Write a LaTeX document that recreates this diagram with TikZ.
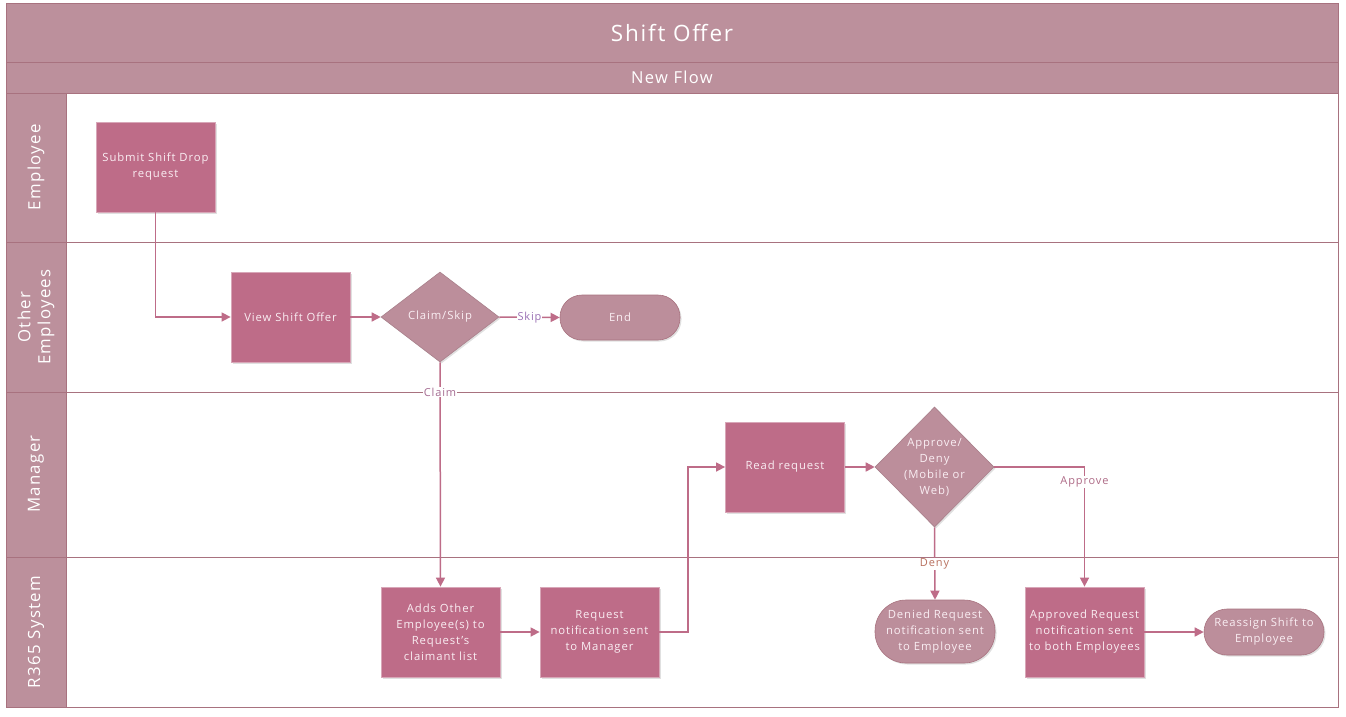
\documentclass[tikz,border=0pt]{standalone}
\usepackage{fontspec}
\setmainfont{Open Sans}[LetterSpace=8]
\usetikzlibrary{shapes.geometric,arrows.meta,shadows}
\definecolor{band}{HTML}{BC909C}
\definecolor{bandline}{HTML}{A8727F}
\definecolor{procc}{HTML}{BE6C88}
\definecolor{decc}{HTML}{BC8E9B}
\definecolor{txtc}{HTML}{FAEEF3}
\definecolor{linec}{HTML}{BE6C88}
\definecolor{skipc}{HTML}{9A70B4}
\definecolor{claimc}{HTML}{A56C92}
\definecolor{denyc}{HTML}{B8705E}
\definecolor{approvec}{HTML}{AE6A86}
\begin{document}
\begin{tikzpicture}[x=1pt,y=-1pt,
  shd/.style={drop shadow={shadow xshift=1.5pt,shadow yshift=-1.5pt,fill=black,opacity=0.12}},
  proc/.style={rectangle, fill=procc, draw=procc!60!white, line width=0.8pt, minimum width=119pt, minimum height=90pt, inner sep=2pt, text=txtc, align=center, font=\fontsize{11.3}{16}\selectfont, shd},
  dec/.style={diamond, fill=decc, draw=decc!90!black, line width=0.6pt, inner sep=0pt, shd},
  term/.style={rectangle, rounded corners=#1, fill=decc, draw=bandline, line width=0.6pt, inner sep=2pt, text=txtc, align=center, font=\fontsize{11.3}{16}\selectfont, shd},
  lbl/.style={fill=white, inner sep=1pt, font=\fontsize{11}{13}\selectfont},
  conn/.style={draw=linec, line width=1.5pt, -{Triangle[length=9pt,width=9pt]}},
  lane/.style={text=white, font=\fontsize{16.8}{20}\selectfont, rotate=90}
]
\useasboundingbox (0,0) rectangle (1346,716);
% frame and bands
\fill[white] (6,3) rectangle (1338,707);
\fill[band] (6,3) rectangle (1338,93);
\fill[band] (6,93) rectangle (66,707);
\draw[bandline, line width=1pt] (6,3) rectangle (1338,707);
\draw[bandline, line width=1pt] (6,62) -- (1338,62);
\draw[bandline, line width=1pt] (6,93) -- (1338,93);
\draw[bandline, line width=1pt] (6,242) -- (1338,242);
\draw[bandline, line width=1pt] (6,392) -- (1338,392);
\draw[bandline, line width=1pt] (6,557) -- (1338,557);
\draw[bandline, line width=1pt] (66,93) -- (66,707);
\node[text=white, font=\fontsize{22.5}{26}\selectfont] (title) at (672,33) {Shift Offer};
\node[text=white, font=\fontsize{16.5}{19}\selectfont] (sub) at (672,77) {New Flow};
\node[lane] (l1) at (36,167) {Employee};
\node[lane, align=center] (l2) at (36,317) {Other\\Employees};
\node[lane] (l3) at (36,474) {Manager};
\node[lane] (l4) at (36,632) {R365 System};
% nodes
\node[proc] (submit) at (155.5,167) {Submit Shift Drop\\request};
\node[proc] (view) at (290.5,317) {View Shift Offer};
\node[dec, minimum width=118pt, minimum height=90pt, label={[text=txtc, font=\fontsize{11.3}{16}\selectfont]center:Claim/Skip}] (claim) at (440,317) {};
\node[term=22pt, minimum width=120pt, minimum height=45pt] (end) at (620,317.5) {End};
\node[proc] (read) at (785,467) {Read request};
\node[dec, minimum width=119pt, minimum height=120pt, label={[text=txtc, align=center, font=\fontsize{11.3}{16}\selectfont]center:Approve/\\Deny\\(Mobile or\\Web)}] (appr) at (934.5,467) {};
\node[proc] (adds) at (440.5,632) {Adds Other\\Employee(s) to\\Request's\\claimant list};
\node[proc] (reqn) at (599.5,632) {Request\\notification sent\\to Manager};
\node[term=31pt, minimum width=120pt, minimum height=63pt] (denied) at (935,631.5) {Denied Request\\notification sent\\to Employee};
\node[proc] (apprn) at (1084.5,632) {Approved Request\\notification sent\\to both Employees};
\node[term=23pt, minimum width=120pt, minimum height=46pt] (reassign) at (1264,632) {Reassign Shift to\\Employee};
% connectors
\draw[conn] (submit.south) |- (view.west);
\draw[conn] (view.east) -- (claim.west);
\draw[conn] (claim.east) -- node[lbl, text=skipc] (skiplbl) {Skip} (end.west);
\draw[conn] (claim.south) -- (adds.north);
\node[lbl, text=claimc] (claimlbl) at (440,392) {Claim};
\draw[conn] (adds.east) -- (reqn.west);
\coordinate (bend) at (688,632);
\draw[conn] (reqn.east) -- (bend) |- (read.west);
\draw[conn] (read.east) -- (appr.west);
\draw[conn] (appr.east) -| (apprn.north);
\node[lbl, text=approvec] (apprlbl) at (1084.5,482) {Approve};
\draw[conn] (appr.south) -- (denied.north);
\node[lbl, text=denyc] (denylbl) at (934.5,564) {Deny};
\draw[conn] (apprn.east) -- (reassign.west);
\end{tikzpicture}
\end{document}
